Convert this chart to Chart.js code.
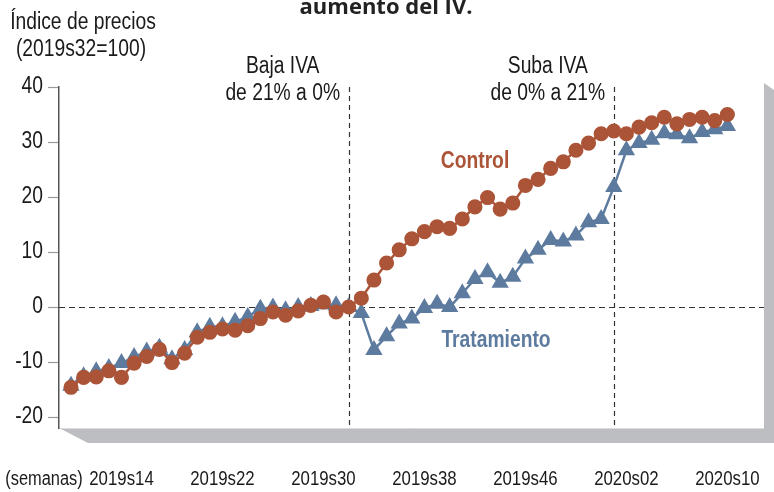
<!DOCTYPE html>
<html>
<head>
<meta charset="utf-8">
<script src="https://cdn.jsdelivr.net/npm/chart.js@4"></script>
<style>
  html, body { margin: 0; padding: 0; background: #fff; }
  #wrap { width: 774px; height: 492px; }
</style>
</head>
<body>
<div id="wrap"><canvas id="priceChart" width="774" height="492"></canvas></div>
<script>
// ============ Data ============
const weeks = [
  '2019s10', '2019s11', '2019s12', '2019s13', '2019s14', '2019s15', '2019s16', '2019s17',
  '2019s18', '2019s19', '2019s20', '2019s21', '2019s22', '2019s23', '2019s24', '2019s25',
  '2019s26', '2019s27', '2019s28', '2019s29', '2019s30', '2019s31', '2019s32', '2019s33',
  '2019s34', '2019s35', '2019s36', '2019s37', '2019s38', '2019s39', '2019s40', '2019s41',
  '2019s42', '2019s43', '2019s44', '2019s45', '2019s46', '2019s47', '2019s48', '2019s49',
  '2019s50', '2019s51', '2019s52', '2020s01', '2020s02', '2020s03', '2020s04', '2020s05',
  '2020s06', '2020s07', '2020s08', '2020s09', '2020s10'
];
const tickWeeks = ['2019s14', '2019s22', '2019s30', '2019s38', '2019s46', '2020s02', '2020s10'];
const yTicks = [-20, -10, 0, 10, 20, 30, 40];

const control = [
  -14.6, -12.8, -12.7, -11.6, -12.8, -10.2, -9.0, -7.7, -10.1, -8.4,
  -5.5, -4.6, -4.0, -4.2, -3.4, -2.1, -0.9, -1.5, -0.7, 0.3,
  0.9, -0.9, 0.0, 1.6, 4.9, 8.0, 10.4, 12.4, 13.7, 14.6,
  14.3, 16.0, 18.2, 19.9, 17.8, 18.9, 22.1, 23.2, 25.2, 26.4,
  28.5, 29.8, 31.5, 32.0, 31.5, 32.7, 33.5, 34.5, 33.3, 34.1,
  34.5, 33.9, 35.0
];
const tratamiento = [
  -14.3, -12.6, -11.7, -11.1, -10.2, -9.1, -8.1, -7.4, -9.5, -7.8,
  -4.6, -3.6, -3.5, -2.7, -1.8, -0.3, -0.1, -0.6, 0.0, 0.2,
  0.5, 0.3, 0.0, -1.1, -7.8, -5.3, -3.0, -2.1, -0.2, 0.6,
  0.0, 2.5, 5.1, 6.3, 4.4, 5.5, 8.8, 10.4, 12.2, 11.9,
  13.0, 15.4, 16.0, 21.8, 28.5, 29.8, 30.4, 31.6, 31.4, 30.7,
  31.8, 32.3, 32.9
];

// policy events (vertical dashed lines)
const eventWeeks = ['2019s32', '2020s01'];
const eventLabels = [['Baja IVA', 'de 21% a 0%'], ['Suba IVA', 'de 0% a 21%']];

// ============ Style ============
const COLORS = {
  control: '#ab5437',
  tratamiento: '#5d7b9e',
  axis: '#555555',
  tick: '#9a9a9a',
  shadow: '#bdbec2',
  dash: '#333333',
  text: '#1a1a1a'
};
const SANS = '"Liberation Sans", Arial, sans-serif';
const SQUEEZE = 0.82;   // no narrow face installed, so squeeze Liberation Sans

const toPoints = (arr) => arr.map((v, i) => ({ x: i, y: v }));

// draw condensed text (fake "Arial Narrow")
function narrowText(ctx, text, x, y, size, align = 'center', bold = false) {
  ctx.save();
  ctx.font = (bold ? 'bold ' : '') + size + 'px ' + SANS;
  ctx.translate(x, y);
  ctx.scale(SQUEEZE, 1);
  ctx.textAlign = align;
  ctx.textBaseline = 'middle';
  ctx.fillText(text, 0, 0);
  ctx.restore();
}

// ============ Plugins ============
const frameShadow = {
  id: 'frameShadow',
  beforeDraw(chart) {
    const { ctx, chartArea: a } = chart;
    ctx.save();
    ctx.fillStyle = '#fff';
    ctx.fillRect(0, 0, chart.width, chart.height);
    ctx.fillStyle = COLORS.shadow;
    ctx.beginPath();
    ctx.moveTo(a.left, a.bottom);
    ctx.lineTo(a.left + 29, a.bottom + 15);
    ctx.lineTo(chart.width + 10, a.bottom + 15);
    ctx.lineTo(chart.width + 10, a.top + 10);
    ctx.lineTo(a.right, a.top - 4);
    ctx.lineTo(a.right, a.bottom);
    ctx.closePath();
    ctx.fill();
    ctx.fillStyle = '#fff';
    ctx.fillRect(a.left, a.top, a.right - a.left, a.bottom - a.top);
    ctx.strokeStyle = '#dcdcdc';
    ctx.lineWidth = 1;
    ctx.beginPath();
    ctx.moveTo(a.left, a.bottom + 0.5);
    ctx.lineTo(a.right, a.bottom + 0.5);
    ctx.stroke();
    ctx.restore();
  }
};

const guides = {
  id: 'guides',
  beforeDatasetsDraw(chart) {
    const { ctx, chartArea: a, scales: { x, y } } = chart;
    ctx.save();
    ctx.strokeStyle = COLORS.dash;
    ctx.lineWidth = 1.2;
    ctx.setLineDash([6, 4]);
    const y0 = Math.round(y.getPixelForValue(0)) + 0.5;
    ctx.beginPath();
    ctx.moveTo(a.left, y0);
    ctx.lineTo(a.right, y0);
    ctx.stroke();
    ctx.setLineDash([5, 4]);
    eventWeeks.forEach(w => {
      const px = Math.round(x.getPixelForValue(weeks.indexOf(w))) + 0.5;
      ctx.beginPath();
      ctx.moveTo(px, a.top);
      ctx.lineTo(px, a.bottom);
      ctx.stroke();
    });
    ctx.restore();
  },
  afterDraw(chart) {
    const { ctx, scales: { x, y } } = chart;
    ctx.save();
    ctx.fillStyle = COLORS.text;

    // tick labels
    yTicks.forEach(v => narrowText(ctx, String(v), 43, y.getPixelForValue(v), 23.5, 'right'));
    tickWeeks.forEach(w => narrowText(ctx, w, x.getPixelForValue(weeks.indexOf(w)), 479, 20.5));
    narrowText(ctx, '(semanas)', 44, 479, 20);

    // axis title
    narrowText(ctx, 'Índice de precios', 83, 23, 23.5);
    narrowText(ctx, '(2019s32=100)', 81, 50, 23.5);

    // event notes
    eventWeeks.forEach((w, k) => {
      const cx = x.getPixelForValue(weeks.indexOf(w)) - 66;
      narrowText(ctx, eventLabels[k][0], cx, 67, 23.5);
      narrowText(ctx, eventLabels[k][1], cx, 94, 23.5);
    });

    // series labels
    ctx.fillStyle = COLORS.control;
    narrowText(ctx, 'Control', 475, 162, 23.5, 'center', true);
    ctx.fillStyle = COLORS.tratamiento;
    narrowText(ctx, 'Tratamiento', 496, 341, 23.5, 'center', true);

    // clipped title at the very top
    ctx.fillStyle = '#222';
    ctx.font = 'bold 22px "Open Sans", sans-serif';
    ctx.textAlign = 'center';
    ctx.textBaseline = 'alphabetic';
    ctx.fillText('aumento del IV.', 386, 14);
    ctx.restore();
  }
};

// ============ Chart ============
const ctx = document.getElementById('priceChart').getContext('2d');
new Chart(ctx, {
  type: 'line',
  data: {
    datasets: [
      {
        label: 'Control',
        data: toPoints(control),
        borderColor: COLORS.control,
        backgroundColor: COLORS.control,
        pointBackgroundColor: COLORS.control,
        pointBorderColor: COLORS.control,
        pointStyle: 'circle',
        pointRadius: 6.3,
        borderWidth: 2.5,
        tension: 0
      },
      {
        label: 'Tratamiento',
        data: toPoints(tratamiento),
        borderColor: COLORS.tratamiento,
        backgroundColor: COLORS.tratamiento,
        pointBackgroundColor: COLORS.tratamiento,
        pointBorderColor: COLORS.tratamiento,
        pointStyle: 'triangle',
        pointRadius: 7.5,
        borderWidth: 2.5,
        tension: 0
      }
    ]
  },
  options: {
    responsive: false,
    animation: false,
    layout: { padding: { top: 87, right: 7, left: 0, bottom: 0 } },
    plugins: {
      legend: { display: false },
      tooltip: { enabled: false }
    },
    scales: {
      x: {
        type: 'linear',
        min: -0.95,
        max: 54.9,
        border: { display: false },
        grid: { display: false },
        afterBuildTicks: (axis) => {
          axis.ticks = tickWeeks.map(w => ({ value: weeks.indexOf(w) }));
        },
        afterFit: (axis) => {
          axis.height = 64;
          axis.paddingLeft = 0;
          axis.paddingRight = 0;
        },
        ticks: { display: false }
      },
      y: {
        min: -22,
        max: 40,
        border: { display: true, color: COLORS.axis, width: 1.5 },
        grid: { drawOnChartArea: false, drawTicks: true, tickLength: 11, tickColor: COLORS.tick, tickWidth: 1.2 },
        afterBuildTicks: (axis) => {
          axis.ticks = yTicks.map(v => ({ value: v }));
        },
        afterFit: (axis) => {
          axis.width = 59;
          axis.paddingTop = 0;
          axis.paddingBottom = 0;
        },
        ticks: { display: false }
      }
    }
  },
  plugins: [frameShadow, guides]
});
</script>
</body>
</html>
